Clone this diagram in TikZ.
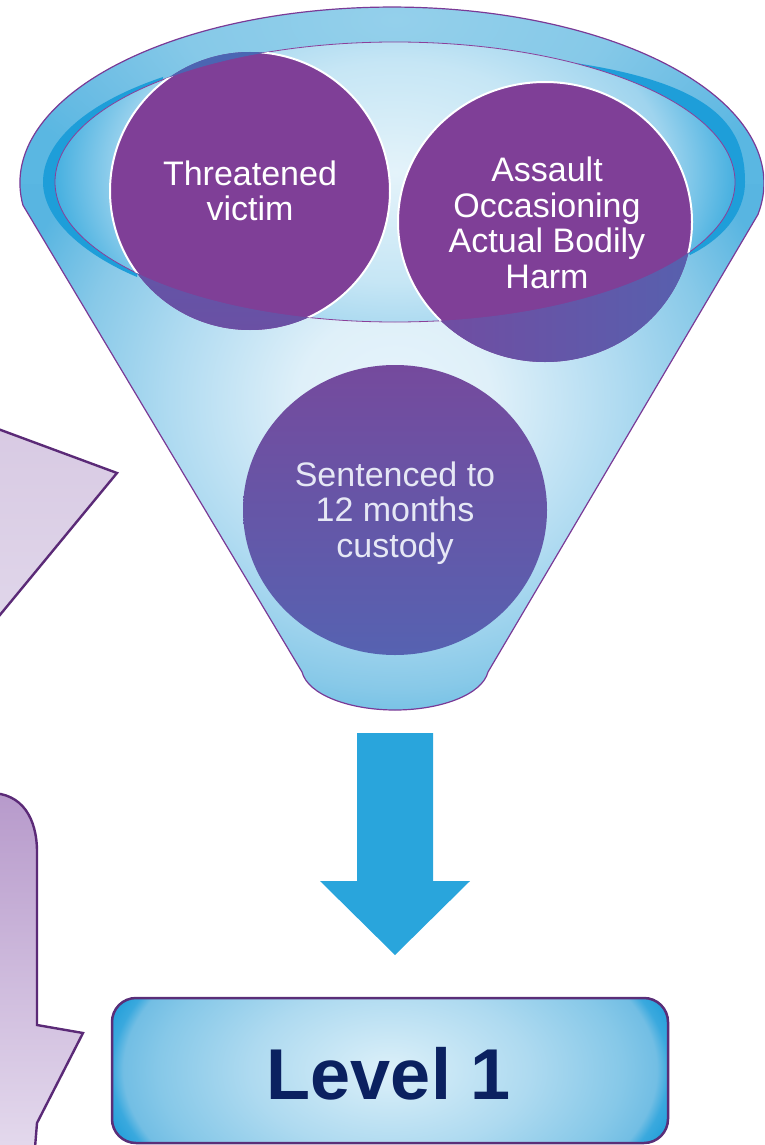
\documentclass[tikz,border=0pt]{standalone}
\usepackage{fontspec}
\setmainfont{Liberation Sans}

% palette
\definecolor{panelLine}{HTML}{5B2A77}
\definecolor{panelTopA}{HTML}{D8CAE3}
\definecolor{panelBotA}{HTML}{E0D6EA}
\definecolor{panelTopB}{HTML}{B79ACB}
\definecolor{panelBotB}{HTML}{E5DBEE}
\definecolor{wallA}{HTML}{E6F4FB}
\definecolor{wallB}{HTML}{DFF0F9}
\definecolor{wallC}{HTML}{B0DBF1}
\definecolor{wallD}{HTML}{88C9E8}
\definecolor{wallE}{HTML}{58B5E1}
\definecolor{rimA}{HTML}{94D0EB}
\definecolor{rimB}{HTML}{86C9E8}
\definecolor{rimC}{HTML}{6CBDE4}
\definecolor{rimD}{HTML}{5AB7E2}
\definecolor{crescentBlue}{HTML}{1E9ED9}
\definecolor{innerA}{HTML}{E4F3FA}
\definecolor{innerB}{HTML}{C6E6F5}
\definecolor{innerC}{HTML}{9FD4EE}
\definecolor{innerD}{HTML}{47B0E0}
\definecolor{rimLine}{HTML}{8B3F99}
\definecolor{funnelLine}{HTML}{7A3A96}
\definecolor{discPurple}{HTML}{7F3F97}
\definecolor{coverTopA}{HTML}{4A66B3}
\definecolor{coverBotA}{HTML}{6A50A4}
\definecolor{coverLeftB}{HTML}{744AA0}
\definecolor{coverRightB}{HTML}{5760AE}
\definecolor{sentTop}{HTML}{754A9D}
\definecolor{sentBot}{HTML}{5662B1}
\definecolor{sentText}{HTML}{E6E8F5}
\definecolor{arrowBlue}{HTML}{29A5DC}
\definecolor{levelA}{HTML}{DCF0F9}
\definecolor{levelB}{HTML}{AEDAF0}
\definecolor{levelC}{HTML}{86C8E8}
\definecolor{levelD}{HTML}{72BEE4}
\definecolor{levelE}{HTML}{3AA9DE}
\definecolor{levelF}{HTML}{2AA2DB}
\definecolor{levelLine}{HTML}{5A2E78}
\definecolor{levelText}{HTML}{0B2160}

% radial shadings: 25bp is the edge of the shaded path's bounding box
\pgfdeclareradialshading{funnelwall}{\pgfpoint{0bp}{0bp}}{color(0bp)=(wallA); color(6bp)=(wallB); color(14bp)=(wallC); color(20bp)=(wallD); color(25bp)=(wallE); color(50bp)=(wallE)}
\pgfdeclareradialshading{rimglow}{\pgfpoint{0bp}{0bp}}{color(0bp)=(rimA); color(12.5bp)=(rimB); color(20bp)=(rimC); color(25bp)=(rimD); color(50bp)=(rimD)}
\pgfdeclareradialshading{innerglow}{\pgfpoint{0bp}{0bp}}{color(0bp)=(innerA); color(12.5bp)=(innerB); color(20bp)=(innerC); color(25bp)=(innerD); color(50bp)=(innerD)}
\pgfdeclareradialshading{levelglow}{\pgfpoint{0bp}{0bp}}{color(0bp)=(levelA); color(12bp)=(levelB); color(20bp)=(levelC); color(23bp)=(levelD); color(24bp)=(levelE); color(25bp)=(levelF); color(50bp)=(levelF)}

\begin{document}
\begin{tikzpicture}[x=1pt,y=-1pt,
  funnelshape/.style={insert path={(22.9,205.1) arc[start angle=172.8,end angle=370.3,x radius=372,y radius=176]
      -- (488,672) .. controls (482,695) and (440,710) .. (395,710)
      .. controls (350,710) and (308,695) .. (302,672) -- cycle}},
  innerrim/.style={insert path={(395,182) ellipse [x radius=340,y radius=140]}},
  sidepanel/.style={draw=panelLine, line width=2.4pt, line join=miter},
  circletext/.style={font=\fontsize{34}{35.5}\selectfont, align=center, text=white, inner sep=0pt},
]
\clip (0,0) rectangle (764,1145);

% partial panels on the left edge
\shadedraw[sidepanel, top color=panelTopA, bottom color=panelBotA]
  (-10,426) -- (117,473) -- (-10,627) -- cycle;
\shadedraw[sidepanel, top color=panelTopB, bottom color=panelBotB]
  (-10,793) .. controls (22,793) and (37,818) .. (37,852) -- (37,1025) -- (83,1033)
  -- (37,1123) -- (34,1160) -- (-10,1160) -- cycle;

% funnel wall and rim
\begin{scope}
  \path[clip, funnelshape];
  \shade[shading=funnelwall] (-5,40) rectangle (795,760);
  \begin{scope}
    \clip (0,0) rectangle (764,183);
    \clip (392,183) ellipse [x radius=372,y radius=176];
    \shade[shading=rimglow] (-25,-180) rectangle (815,220);
  \end{scope}
\end{scope}

% darker inner wall at both sides of the rim
\fill[crescentBlue] (163,77) .. controls (80,105) and (43,145) .. (43,182)
  .. controls (43,220) and (85,255) .. (137,277) -- cycle;
\fill[crescentBlue] (575,63) .. controls (720,85) and (745,130) .. (745,182)
  .. controls (745,215) and (720,240) .. (690,255) -- cycle;

% mouth of the funnel
\begin{scope}
  \path[clip, innerrim];
  \shade[shading=innerglow] (55,-48) rectangle (735,392);
\end{scope}
\draw[rimLine, line width=0.8pt, innerrim];

% discs sitting in the mouth
\fill[discPurple] (250,191) ellipse [x radius=140,y radius=139];
\fill[discPurple] (545,222) ellipse [x radius=147,y radius=140];
\begin{scope}
  \path[clip, innerrim];
  \draw[white, line width=2pt] (250,191) ellipse [x radius=140,y radius=139];
  \draw[white, line width=2pt] (545,222) ellipse [x radius=147,y radius=140];
\end{scope}

% parts of the discs seen through the front wall
\begin{scope}[even odd rule]
  \path[clip, funnelshape] (395,182) ellipse [x radius=340,y radius=140];
  \shade[top color=coverTopA, bottom color=coverBotA] (250,191) ellipse [x radius=140,y radius=139];
  \shade[left color=coverLeftB, right color=coverRightB] (545,222) ellipse [x radius=147,y radius=140];
\end{scope}

% disc inside the funnel body
\shade[top color=sentTop, bottom color=sentBot] (395,510) ellipse [x radius=152,y radius=145];

\node[circletext] (threat) at (250,191) {Threatened\\victim};
\node[circletext] (abh) at (547,223) {Assault\\Occasioning\\Actual Bodily\\Harm};
\node[circletext, text=sentText] (sentence) at (395,513) {Sentenced to\\12 months\\custody};

% funnel outline
\draw[funnelLine, line width=1.2pt, funnelshape];

% block arrow
\fill[arrowBlue] (357,733) -- (433,733) -- (433,881) -- (470,881) -- (395,955)
  -- (320,881) -- (357,881) -- cycle;

% result box
\begin{scope}
  \clip[rounded corners=24pt] (112,998) rectangle (668,1143);
  \shade[shading=levelglow] (100,900) rectangle (680,1240);
\end{scope}
\draw[levelLine, line width=2.5pt, rounded corners=24pt] (112,998) rectangle (668,1143);
\node[font=\fontsize{72}{80}\selectfont\bfseries, text=levelText, anchor=base, inner sep=0pt]
  (level) at (389,1099) {Level 1};
\end{tikzpicture}
\end{document}
